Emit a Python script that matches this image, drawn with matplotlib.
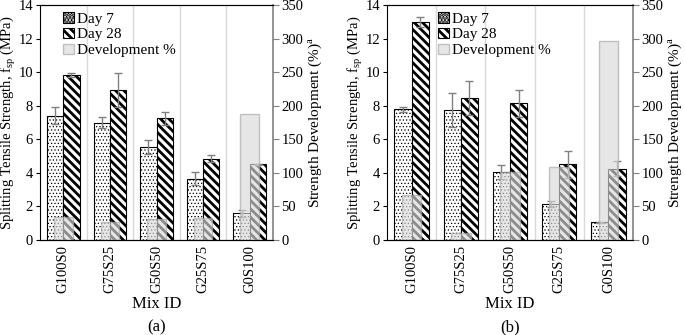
import matplotlib.pyplot as plt
import numpy as np

plt.rcParams['font.family'] = ['Liberation Serif', 'DejaVu Serif']
plt.rcParams['mathtext.fontset'] = 'custom'
plt.rcParams['mathtext.rm'] = 'Liberation Serif'

mixes = ["G100S0", "G75S25", "G50S50", "G25S75", "G0S100"]

# panel (a)
a_day7 = [7.4, 7.0, 5.55, 3.65, 1.6]
a_day7_err = [0.5, 0.3, 0.4, 0.4, 0.2]
a_day28 = [9.85, 8.95, 7.25, 4.85, 4.5]
a_day28_err = [0.12, 1.0, 0.4, 0.2, 0.05]
a_dev = [34, 27, 31, 33, 187]

# panel (b)
b_day7 = [7.8, 7.75, 4.05, 2.15, 1.05]
b_day7_err = [0.15, 1.0, 0.4, 0.2, 0.03]
b_day28 = [13.0, 8.45, 8.15, 4.5, 4.25]
b_day28_err = [0.3, 1.0, 0.8, 0.8, 0.45]
b_dev = [67, 10, 101, 109, 297]


def panel(rect, day7, e7, day28, e28, dev, tag, leg_x):
    ax = fig.add_axes(rect)
    x = np.arange(len(mixes))
    w = 0.35
    plt.rcParams['hatch.linewidth'] = 0.5
    ax.bar(x - w / 2, day7, w, facecolor='white', edgecolor='black', hatch='.....',
           linewidth=0.8, yerr=e7, error_kw=dict(ecolor='#808080', capsize=3, elinewidth=1),
           label='Day 7', zorder=2)
    plt.rcParams['hatch.linewidth'] = 2.0
    ax.bar(x + w / 2, day28, w, facecolor='white', edgecolor='black', hatch='\\\\\\\\',
           linewidth=0.8, yerr=e28, error_kw=dict(ecolor='#808080', capsize=3, elinewidth=1),
           label='Day 28', zorder=2)
    ax.set_xlim(-0.5, len(mixes) - 0.5)
    ax.set_ylim(0, 14)
    ax.set_yticks(range(0, 15, 2))
    ax.set_xticks(x)
    ax.set_xticklabels(mixes, rotation=90, fontsize=10.5)
    ax.tick_params(axis='x', length=0)
    ax.tick_params(axis='y', labelsize=10.5, direction='out', length=3, pad=2)
    for b in np.arange(0.5, len(mixes) - 0.5, 1):
        ax.axvline(b, color='#d9d9d9', lw=1, zorder=0)
    ax.set_ylabel('Splitting Tensile Strength, f$_{\\rm sp}$ (MPa)', fontsize=10.5, labelpad=0)
    ax.set_xlabel('Mix ID\n(' + tag + ')', fontsize=12, labelpad=2, linespacing=1.6)
    ax.spines['right'].set_visible(False)

    ax2 = ax.twinx()
    ax2.bar(x, dev, 0.4, facecolor='#d9d9d9', edgecolor='#a6a6a6', alpha=0.65,
            linewidth=1, label='Development %', zorder=1)
    ax2.set_ylim(0, 350)
    ax2.set_yticks(range(0, 351, 50))
    ax2.tick_params(axis='y', labelsize=10.5, direction='out', length=4, color='#808080', pad=2)
    ax2.spines['right'].set_color('#808080')
    ax2.spines['right'].set_linewidth(1.2)
    ax2.spines['left'].set_visible(False)
    ax2.set_ylabel('Strength Development (%)$^{\\rm a}$', fontsize=11, labelpad=2)

    h1, l1 = ax.get_legend_handles_labels()
    h2, l2 = ax2.get_legend_handles_labels()
    ax.legend(h1 + h2, l1 + l2, loc='upper left', bbox_to_anchor=(leg_x, 1.01),
              frameon=False, fontsize=11, handlelength=0.7, handleheight=0.7,
              handletextpad=0.2, labelspacing=0.15, borderaxespad=0.2)


fig = plt.figure(figsize=(6.85, 3.35), dpi=100)
panel([40 / 685, 95 / 335, 233 / 685, 235 / 335], a_day7, a_day7_err, a_day28, a_day28_err,
      a_dev, 'a', 0.06)
panel([387 / 685, 95 / 335, 246 / 685, 235 / 335], b_day7, b_day7_err, b_day28, b_day28_err,
      b_dev, 'b', 0.17)

fig.savefig('out.png', dpi=100)
